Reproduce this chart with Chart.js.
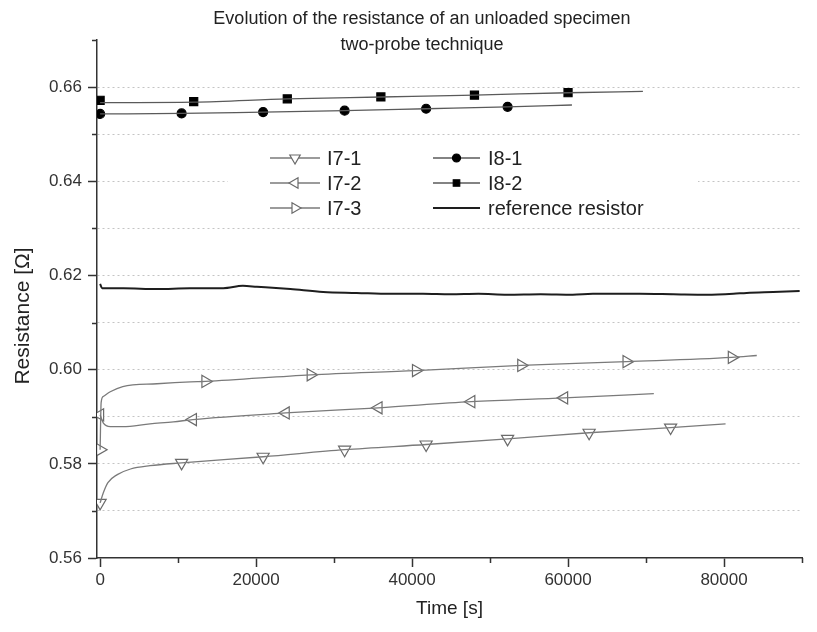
<!DOCTYPE html>
<html>
<head>
<meta charset="utf-8">
<title>Evolution of the resistance of an unloaded specimen</title>
<script src="https://cdn.jsdelivr.net/npm/chart.js@4.4.1/dist/chart.umd.min.js"></script>
<style>
  html, body { margin: 0; padding: 0; background: #fff; }
  #wrap { width: 817px; height: 632px; }
</style>
</head>
<body>
<div id="wrap"><canvas id="chart" width="817" height="632"></canvas></div>
<script>
// --- Dados (tempo em s, resistência em ohm) ---
const i71Time = [0, 400, 1000, 2200, 3900, 6400, 10450, 20900, 31350, 41800, 52250, 62700, 73150, 80200];
const i71Res = [0.5717, 0.5738, 0.5760, 0.5777, 0.5789, 0.5796, 0.5802, 0.5815, 0.5830, 0.5841, 0.5853, 0.5866, 0.5877, 0.5885];
const i71MarkTime = [0, 10450, 20900, 31350, 41800, 52250, 62700, 73150];
const i71MarkRes = [0.5717, 0.5802, 0.5815, 0.5830, 0.5841, 0.5853, 0.5866, 0.5877];

const i72Time = [0, 400, 1300, 2900, 6400, 9400, 11900, 23800, 35700, 47600, 59500, 71000];
const i72Res = [0.5904, 0.5887, 0.5879, 0.5879, 0.5885, 0.5889, 0.5894, 0.5908, 0.5919, 0.5932, 0.5940, 0.5949];
const i72MarkTime = [0, 11900, 23800, 35700, 47600, 59500];
const i72MarkRes = [0.5904, 0.5894, 0.5908, 0.5919, 0.5932, 0.5940];

const i73Time = [0, 130, 400, 1300, 2900, 7300, 11600, 13500, 27000, 40500, 54000, 67500, 81000, 84200];
const i73Res = [0.5830, 0.5930, 0.5943, 0.5953, 0.5964, 0.5970, 0.5974, 0.5975, 0.5989, 0.5998, 0.6009, 0.6017, 0.6026, 0.6030];
const i73MarkTime = [0, 13500, 27000, 40500, 54000, 67500, 81000];
const i73MarkRes = [0.5830, 0.5975, 0.5989, 0.5998, 0.6009, 0.6017, 0.6026];

const i81Time = [0, 10450, 20900, 31350, 41800, 52250, 60500];
const i81Res = [0.6543, 0.6544, 0.6547, 0.6550, 0.6554, 0.6558, 0.6562];
const i81MarkTime = [0, 10450, 20900, 31350, 41800, 52250];
const i81MarkRes = [0.6543, 0.6544, 0.6547, 0.6550, 0.6554, 0.6558];

const i82Time = [0, 12000, 24000, 36000, 48000, 60000, 69600];
const i82Res = [0.6567, 0.6568, 0.6575, 0.6579, 0.6583, 0.6588, 0.6591];
const i82MarkTime = [0, 12000, 24000, 36000, 48000, 60000];
const i82MarkRes = [0.6572, 0.6569, 0.6575, 0.6579, 0.6583, 0.6588];

const refTime = [0, 250, 3000, 7300, 11500, 15800, 18300, 20100, 24400, 28600, 32900, 37200, 41400, 44900, 48500, 52200, 56500, 60600, 63200, 66000, 69200, 73500, 77800, 81200, 82900, 86300, 89700];
const refRes = [0.6182, 0.6173, 0.6173, 0.6171, 0.6173, 0.6173, 0.6178, 0.6176, 0.6171, 0.6165, 0.6163, 0.6161, 0.6161, 0.6160, 0.6161, 0.6159, 0.6160, 0.6159, 0.6161, 0.6161, 0.6161, 0.6160, 0.6159, 0.6161, 0.6163, 0.6165, 0.6167];

const xTicks = [0, 10000, 20000, 30000, 40000, 50000, 60000, 70000, 80000, 90000];
const yTicks = [0.56, 0.57, 0.58, 0.59, 0.60, 0.61, 0.62, 0.63, 0.64, 0.65, 0.66, 0.67];

const FONT = '"Liberation Sans", Arial, sans-serif';
const toPts = (t, r) => t.map((x, i) => ({ x: x, y: r[i] }));
const isMajorX = v => v % 20000 === 0;
const isMajorY = v => Math.round(v * 100) % 2 === 0;

// linha contínua de cada série
function trace(label, t, r, color, width) {
    return {
        label: label, data: toPts(t, r), showLine: true,
        borderColor: color, borderWidth: width, pointRadius: 0,
        cubicInterpolationMode: 'monotone'
    };
}
// marcadores de cada série
function marks(label, t, r, style, rot, radius, fill, stroke) {
    return {
        label: label, data: toPts(t, r), showLine: false,
        pointStyle: style, rotation: rot, pointRadius: radius,
        backgroundColor: fill, borderColor: stroke, borderWidth: 1.2
    };
}

const datasets = [
    trace('reference resistor', refTime, refRes, '#1e1e1e', 2),
    trace('I7-1', i71Time, i71Res, '#7a7a7a', 1.3),
    trace('I7-2', i72Time, i72Res, '#7a7a7a', 1.3),
    trace('I7-3', i73Time, i73Res, '#7a7a7a', 1.3),
    trace('I8-1', i81Time, i81Res, '#5a5a5a', 1.3),
    trace('I8-2', i82Time, i82Res, '#5a5a5a', 1.3),
    marks('I7-1', i71MarkTime, i71MarkRes, 'triangle', 180, 7, '#fff', '#6a6a6a'),
    marks('I7-2', i72MarkTime, i72MarkRes, 'triangle', 270, 7, '#fff', '#6a6a6a'),
    marks('I7-3', i73MarkTime, i73MarkRes, 'triangle', 90, 7, '#fff', '#6a6a6a'),
    marks('I8-1', i81MarkTime, i81MarkRes, 'circle', 0, 4.5, '#000', '#000'),
    marks('I8-2', i82MarkTime, i82MarkRes, 'rect', 0, 5.7, '#000', '#000')
];

// legenda desenhada à mão (linha + marcador, como no original)
const legendItems = [
    { text: 'I7-1', col: 0, row: 0, line: '#7a7a7a', style: 'triangle', rot: 180, r: 6, fill: '#fff', stroke: '#6a6a6a' },
    { text: 'I7-2', col: 0, row: 1, line: '#7a7a7a', style: 'triangle', rot: 270, r: 6, fill: '#fff', stroke: '#6a6a6a' },
    { text: 'I7-3', col: 0, row: 2, line: '#7a7a7a', style: 'triangle', rot: 90, r: 6, fill: '#fff', stroke: '#6a6a6a' },
    { text: 'I8-1', col: 1, row: 0, line: '#5a5a5a', style: 'circle', rot: 0, r: 4, fill: '#000', stroke: '#000' },
    { text: 'I8-2', col: 1, row: 1, line: '#5a5a5a', style: 'rect', rot: 0, r: 4.6, fill: '#000', stroke: '#000' },
    { text: 'reference resistor', col: 1, row: 2, line: '#1e1e1e', style: null }
];

const decorPlugin = {
    id: 'decor',
    beforeDatasetsDraw(chart) {
        const ctx = chart.ctx;
        ctx.save();
        ctx.fillStyle = '#fff';
        ctx.fillRect(228, 140, 470, 84);
        ctx.restore();
    },
    afterDraw(chart) {
        const ctx = chart.ctx;
        const xs = chart.scales.x, ys = chart.scales.y;
        ctx.save();

        // ticks menores (mais curtos que os principais)
        ctx.strokeStyle = '#333';
        ctx.lineWidth = 1.5;
        ctx.beginPath();
        xTicks.filter(v => !isMajorX(v)).forEach(v => {
            const px = Math.round(xs.getPixelForValue(v)) + 0.5;
            ctx.moveTo(px, xs.top);
            ctx.lineTo(px, xs.top + 5);
        });
        yTicks.filter(v => !isMajorY(v)).forEach(v => {
            const py = Math.round(ys.getPixelForValue(v)) + 0.5;
            ctx.moveTo(ys.right, py);
            ctx.lineTo(ys.right - 5, py);
        });
        ctx.stroke();

        // título em duas linhas
        ctx.fillStyle = '#222';
        ctx.font = '18px ' + FONT;
        ctx.textAlign = 'center';
        ctx.textBaseline = 'middle';
        ctx.fillText('Evolution of the resistance of an unloaded specimen', 422, 19);
        ctx.fillText('two-probe technique', 422, 45);

        // título do eixo y
        ctx.save();
        ctx.translate(23, 316);
        ctx.rotate(-Math.PI / 2);
        ctx.font = '21px ' + FONT;
        ctx.fillText('Resistance [Ω]', 0, 0);
        ctx.restore();

        // legenda
        const cols = [{ x1: 270, x2: 320, tx: 327 }, { x1: 433, x2: 480, tx: 488 }];
        const rows = [158, 183, 208];
        ctx.textAlign = 'left';
        ctx.font = '20px ' + FONT;
        legendItems.forEach(it => {
            const c = cols[it.col], y = rows[it.row];
            ctx.strokeStyle = it.line;
            ctx.lineWidth = it.style ? 1.3 : 2;
            ctx.beginPath();
            ctx.moveTo(c.x1, y);
            ctx.lineTo(c.x2, y);
            ctx.stroke();
            if (it.style) {
                ctx.fillStyle = it.fill;
                ctx.strokeStyle = it.stroke;
                ctx.lineWidth = 1.2;
                Chart.helpers.drawPoint(ctx, { pointStyle: it.style, rotation: it.rot, radius: it.r, borderWidth: 1.2 }, (c.x1 + c.x2) / 2, y);
            }
            ctx.fillStyle = '#222';
            ctx.fillText(it.text, c.tx, y + 1);
        });
        ctx.restore();
    }
};

new Chart(document.getElementById('chart').getContext('2d'), {
    type: 'scatter',
    data: { datasets: datasets },
    options: {
        responsive: false,
        animation: false,
        layout: { padding: { top: 40, right: 15, left: 0, bottom: 0 } },
        plugins: {
            legend: { display: false },
            title: { display: false },
            tooltip: { enabled: false }
        },
        scales: {
            x: {
                type: 'linear',
                min: -400,
                max: 90000,
                afterBuildTicks: s => { s.ticks = xTicks.map(v => ({ value: v })); },
                afterFit: s => { s.height = 74; },
                grid: {
                    drawOnChartArea: false, tickLength: 9, tickWidth: 1.5,
                    tickColor: c => (c.tick && isMajorX(c.tick.value) ? '#333' : 'rgba(0,0,0,0)')
                },
                border: { color: '#333', width: 1.5 },
                ticks: {
                    autoSkip: false, maxRotation: 0, padding: 3, color: '#333',
                    font: { family: FONT, size: 17 },
                    callback: v => (isMajorX(v) ? String(v) : '')
                },
                title: {
                    display: true, text: 'Time [s]', color: '#222',
                    font: { family: FONT, size: 19 }, padding: { top: 0, bottom: 12 }
                }
            },
            y: {
                min: 0.56,
                max: 0.67,
                afterBuildTicks: s => { s.ticks = yTicks.map(v => ({ value: v })); },
                afterFit: s => { s.width = 97; },
                grid: {
                    color: c => (c.tick && c.tick.value > 0.565 && c.tick.value < 0.665 ? '#c4c4c4' : 'rgba(0,0,0,0)'),
                    lineWidth: 1, tickLength: 9, tickWidth: 1.5,
                    tickColor: c => (c.tick && isMajorY(c.tick.value) ? '#333' : 'rgba(0,0,0,0)')
                },
                border: { color: '#333', width: 1.5, dash: [2, 3] },
                ticks: {
                    autoSkip: false, padding: 6, color: '#333',
                    font: { family: FONT, size: 17 },
                    callback: v => (isMajorY(v) ? v.toFixed(2) : '')
                },
                title: { display: false }
            }
        }
    },
    plugins: [decorPlugin]
});
</script>
</body>
</html>
